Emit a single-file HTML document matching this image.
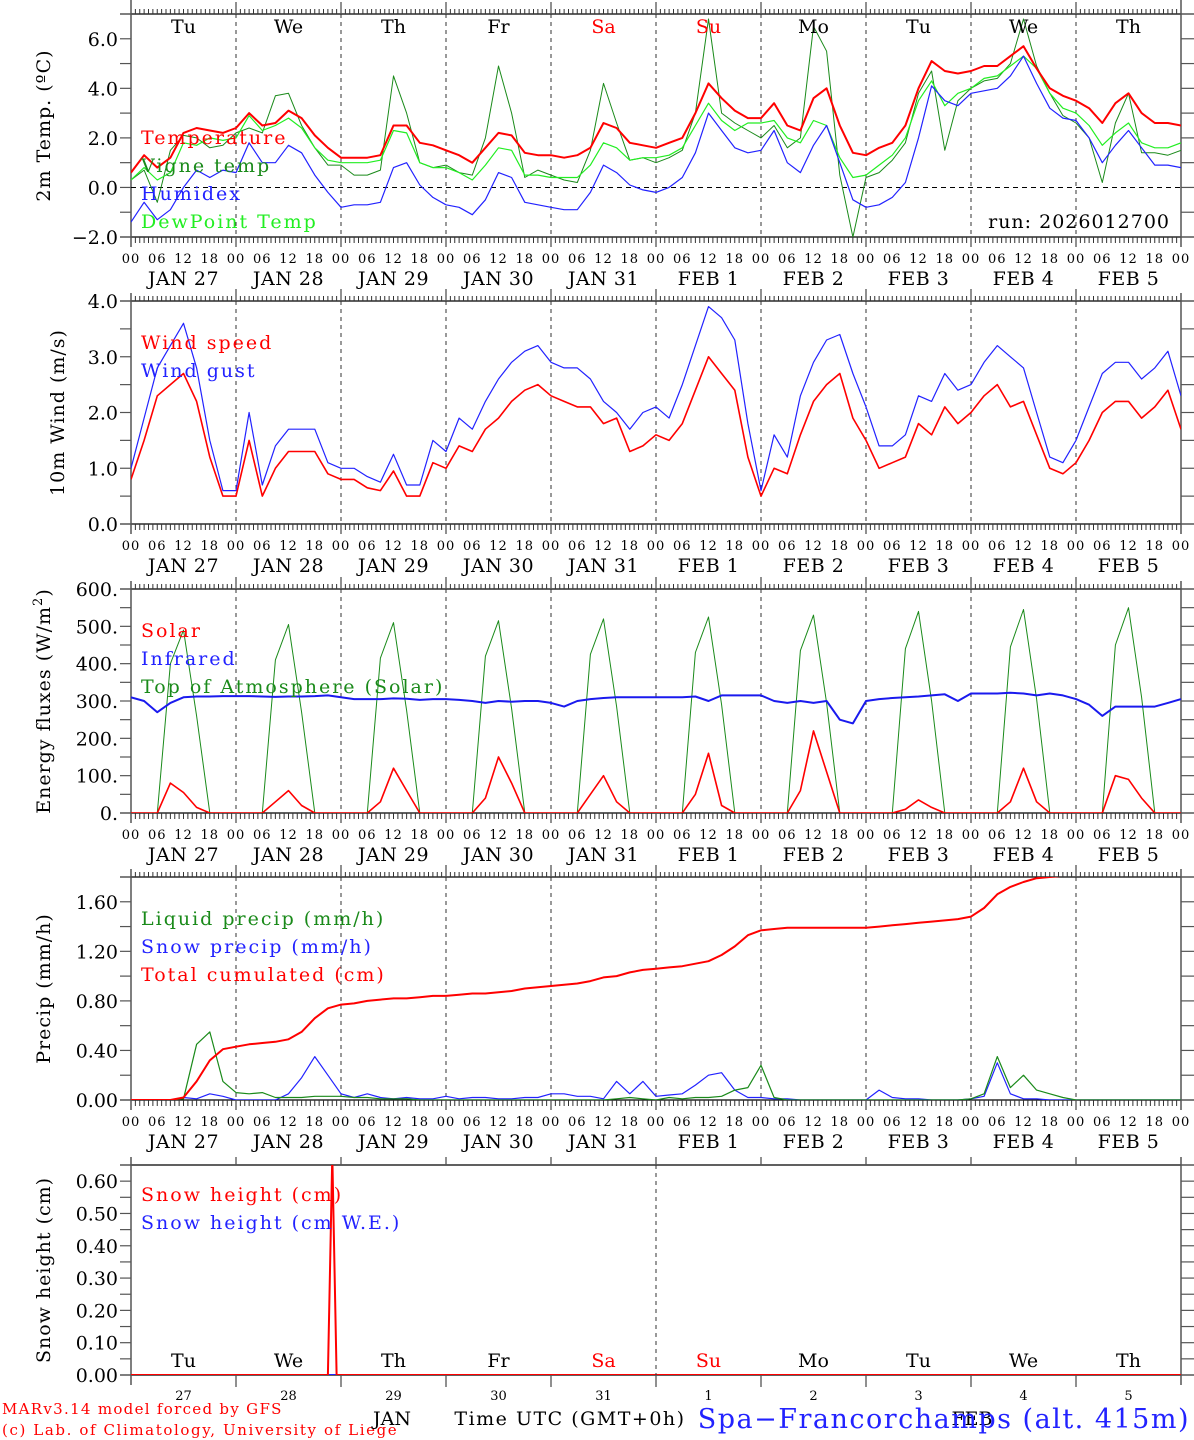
<!DOCTYPE html>
<html><head><meta charset="utf-8">
<style>
html,body{margin:0;padding:0;background:#fff;}
svg{display:block;}
text{font-family:"DejaVu Serif","Liberation Serif",serif;}
</style></head>
<body>
<svg id="chart" width="1194" height="1440" viewBox="0 0 1194 1440" xmlns="http://www.w3.org/2000/svg"></svg>
<script>
// ---- data (3-hourly, starting Jan 27 00 UTC) ----
const stepHours = 3;
const dayNames = ['Tu','We','Th','Fr','Sa','Su','Mo','Tu','We','Th'];
const dateLabels = ['JAN  27','JAN  28','JAN  29','JAN  30','JAN  31','FEB   1','FEB   2','FEB   3','FEB   4','FEB   5'];
const dayNums = ['27','28','29','30','31','1','2','3','4','5'];
const hourLabels = ['00','06','12','18'];

const temperature = [0.6,1.3,0.8,1.2,2.2,2.4,2.3,2.2, 2.4,3.0,2.5,2.6,3.1,2.8,2.1,1.6, 1.2,1.2,1.2,1.3,2.5,2.5,1.8,1.7, 1.5,1.3,1.0,1.6,2.2,2.1,1.4,1.3, 1.3,1.2,1.3,1.6,2.6,2.4,1.8,1.7, 1.6,1.8,2.0,3.0,4.2,3.6,3.1,2.8, 2.8,3.4,2.5,2.3,3.6,4.0,2.5,1.4, 1.3,1.6,1.8,2.5,4.0,5.1,4.7,4.6, 4.7,4.9,4.9,5.3,5.7,4.8,4.0,3.7, 3.5,3.2,2.6,3.4,3.8,3.0,2.6,2.6,2.5];
const vigneTemp = [0.3,0.7,-0.6,1.5,2.1,2.0,1.6,1.7, 2.2,2.4,2.2,3.7,3.8,2.5,1.6,0.9, 0.9,0.5,0.5,0.7,4.5,3.0,1.0,0.8, 0.9,0.6,0.5,2.0,4.9,3.0,0.4,0.7, 0.5,0.3,0.2,1.5,4.2,2.6,1.1,1.2, 1.0,1.2,1.5,3.0,6.8,3.0,2.6,2.3, 2.0,2.5,1.6,2.0,6.5,5.5,0.5,-2.0, 0.4,0.6,1.1,1.8,3.8,4.7,1.5,3.5, 4.0,4.3,4.4,5.0,6.8,4.9,3.8,2.9, 2.6,2.0,0.2,2.6,3.8,1.4,1.4,1.3,1.5];
const dewPoint = [0.3,0.8,0.3,0.6,1.8,1.7,2.0,1.9, 2.0,2.9,2.3,2.5,2.8,2.4,1.6,1.1, 1.0,1.0,1.0,1.1,2.3,2.2,1.0,0.8, 0.8,0.6,0.3,0.9,1.6,1.5,0.5,0.5, 0.4,0.4,0.4,0.9,1.8,1.6,1.1,1.2, 1.2,1.3,1.6,2.5,3.4,2.7,2.3,2.6, 2.6,2.7,2.0,1.8,2.7,2.5,1.2,0.4, 0.5,0.9,1.3,2.0,3.5,4.3,3.3,3.8, 4.0,4.4,4.5,4.9,5.3,4.8,3.8,3.2, 3.0,2.5,1.7,2.2,2.6,1.8,1.6,1.6,1.8];
const humidex = [-1.4,-0.6,-1.3,-0.9,0.0,0.7,0.4,0.7, 0.6,1.8,1.0,1.0,1.7,1.4,0.5,-0.2, -0.8,-0.7,-0.7,-0.6,0.8,1.0,0.1,-0.4, -0.7,-0.8,-1.1,-0.5,0.6,0.4,-0.6,-0.7, -0.8,-0.9,-0.9,-0.2,0.9,0.6,0.1,-0.1, -0.2,0.0,0.4,1.4,3.0,2.3,1.6,1.4, 1.5,2.3,1.0,0.6,1.7,2.5,1.0,-0.5, -0.8,-0.7,-0.4,0.2,2.0,4.1,3.5,3.3, 3.8,3.9,4.0,4.5,5.3,4.2,3.2,2.8, 2.7,2.0,1.0,1.7,2.3,1.6,0.9,0.9,0.8];

const windSpeed = [0.8,1.5,2.3,2.5,2.7,2.2,1.2,0.5, 0.5,1.5,0.5,1.0,1.3,1.3,1.3,0.9, 0.8,0.8,0.65,0.6,0.95,0.5,0.5,1.1, 1.0,1.4,1.3,1.7,1.9,2.2,2.4,2.5, 2.3,2.2,2.1,2.1,1.8,1.9,1.3,1.4, 1.6,1.5,1.8,2.4,3.0,2.7,2.4,1.2, 0.5,1.0,0.9,1.6,2.2,2.5,2.7,1.9, 1.5,1.0,1.1,1.2,1.8,1.6,2.1,1.8, 2.0,2.3,2.5,2.1,2.2,1.6,1.0,0.9, 1.1,1.5,2.0,2.2,2.2,1.9,2.1,2.4,1.7];
const windGust = [1.0,1.9,2.8,3.2,3.6,2.8,1.5,0.6, 0.6,2.0,0.7,1.4,1.7,1.7,1.7,1.1, 1.0,1.0,0.85,0.75,1.25,0.7,0.7,1.5, 1.3,1.9,1.7,2.2,2.6,2.9,3.1,3.2, 2.9,2.8,2.8,2.6,2.2,2.0,1.7,2.0, 2.1,1.9,2.5,3.2,3.9,3.7,3.3,1.8, 0.6,1.6,1.2,2.3,2.9,3.3,3.4,2.7, 2.1,1.4,1.4,1.6,2.3,2.2,2.7,2.4, 2.5,2.9,3.2,3.0,2.8,2.0,1.2,1.1, 1.5,2.1,2.7,2.9,2.9,2.6,2.8,3.1,2.3];

const solar = [0,0,0,80,55,15,0,0, 0,0,0,30,60,20,0,0, 0,0,0,30,120,60,0,0, 0,0,0,40,150,80,0,0, 0,0,0,50,100,30,0,0, 0,0,0,50,160,20,0,0, 0,0,0,60,220,110,0,0, 0,0,0,10,35,15,0,0, 0,0,0,30,120,30,0,0, 0,0,0,100,90,40,0,0,0];
const infrared = [310,300,270,295,310,312,312,313, 313,313,312,311,312,312,313,315, 310,305,305,305,307,306,303,305, 305,303,300,295,300,298,300,300, 295,285,300,305,308,310,310,310, 310,310,310,312,300,315,315,315, 315,300,295,300,295,300,250,240, 300,305,308,310,312,315,318,300, 320,320,320,322,320,315,320,315, 305,290,260,285,285,285,285,295,305];
const toaSolar = [0,0,0,400,490,260,0,0, 0,0,0,410,505,270,0,0, 0,0,0,415,510,275,0,0, 0,0,0,420,515,280,0,0, 0,0,0,425,520,285,0,0, 0,0,0,430,525,290,0,0, 0,0,0,435,530,295,0,0, 0,0,0,440,540,300,0,0, 0,0,0,445,545,305,0,0, 0,0,0,450,550,310,0,0,0];

const liquidPrecip = [0,0,0,0,0.01,0.45,0.55,0.15, 0.06,0.05,0.06,0.02,0.02,0.02,0.03,0.03, 0.03,0.02,0.02,0.01,0.01,0.01,0,0, 0,0,0,0,0,0,0,0, 0,0,0,0,0,0.01,0.02,0.01, 0,0.02,0.01,0.02,0.02,0.03,0.08,0.1, 0.28,0.02,0,0,0,0,0,0, 0,0,0,0,0,0,0,0, 0.01,0.05,0.35,0.1,0.2,0.08,0.05,0.02, 0,0,0,0,0,0,0,0,0];
const snowPrecip = [0,0,0,0,0.02,0.01,0.05,0.03, 0,0,0,0,0.05,0.18,0.35,0.2, 0.05,0.02,0.05,0.02,0.01,0.02,0.01,0.01, 0.03,0.01,0.02,0.02,0.01,0.01,0.02,0.02, 0.05,0.05,0.03,0.03,0.01,0.15,0.05,0.15, 0.03,0.04,0.05,0.12,0.2,0.22,0.08,0.02, 0.02,0.01,0.01,0,0,0,0,0, 0,0.08,0.02,0.01,0.01,0,0,0, 0.01,0.03,0.3,0.05,0.01,0.01,0,0, 0,0,0,0,0,0,0,0,0];
const totalCumulated = [0,0,0,0,0.02,0.15,0.32,0.41, 0.43,0.45,0.46,0.47,0.49,0.55,0.66,0.74, 0.77,0.78,0.80,0.81,0.82,0.82,0.83,0.84, 0.84,0.85,0.86,0.86,0.87,0.88,0.90,0.91, 0.92,0.93,0.94,0.96,0.99,1.00,1.03,1.05, 1.06,1.07,1.08,1.10,1.12,1.17,1.24,1.33, 1.37,1.38,1.39,1.39,1.39,1.39,1.39,1.39, 1.39,1.40,1.41,1.42,1.43,1.44,1.45,1.46, 1.48,1.55,1.66,1.72,1.76,1.79,1.80,1.81, 1.81,1.81,1.81,1.81,1.81,1.81,1.81,1.81,1.81];

const snowHours = [0,45,46,47,240];
const snowHeight = [0,0,0.68,0,0];
const snowWE = [0,0,0,0,0];

// tick arrays
const tempTickVals = [-2,0,2,4,6];
const tempTickLabels = ['\u22122.0','0.0','2.0','4.0','6.0'];
const windTickVals = [0,1,2,3,4];
const windTickLabels = ['0.0','1.0','2.0','3.0','4.0'];
const energyTickVals = [0,100,200,300,400,500,600];
const energyTickLabels = ['0.','100.','200.','300.','400.','500.','600.'];
const precipTickVals = [0,0.4,0.8,1.2,1.6];
const precipTickLabels = ['0.00','0.40','0.80','1.20','1.60'];
const snowTickVals = [0,0.1,0.2,0.3,0.4,0.5,0.6];
const snowTickLabels = ['0.00','0.10','0.20','0.30','0.40','0.50','0.60'];

// ---- drawing ----
const NS = 'http://www.w3.org/2000/svg';
const svg = document.getElementById('chart');
const X0 = 131, X1 = 1181, DAYW = (X1 - X0) / 10;
function xh(h){ return X0 + h * DAYW / 24; }
function mk(tag, attrs, parent){
  const e = document.createElementNS(NS, tag);
  for (const k in attrs) e.setAttribute(k, attrs[k]);
  (parent || svg).appendChild(e);
  return e;
}
function txt(s, x, y, size, fill, anchor, parent){
  const t = mk('text', {x:x, y:y, 'font-size':size, fill:fill || '#000', 'text-anchor':anchor || 'middle'}, parent);
  t.textContent = s;
  return t;
}

function panel(p){
  const g = mk('g', {});
  
  
  const ys = v => p.bottom - (v - p.ymin) / (p.ymax - p.ymin) * (p.bottom - p.top);
  p.ys = ys;
  mk('line', {x1:120, y1:p.top, x2:1194, y2:p.top, stroke:'#000', 'stroke-width':1.2}, g);
  mk('line', {x1:120, y1:p.bottom, x2:1194, y2:p.bottom, stroke:'#000', 'stroke-width':1.2}, g);
  mk('line', {x1:X0, y1:p.top - (p.topExt||8), x2:X0, y2:p.bottom + 10, stroke:'#555', 'stroke-width':1.5}, g);
  mk('line', {x1:X1, y1:p.top - (p.topExt||8), x2:X1, y2:p.bottom + 10, stroke:'#555', 'stroke-width':1.5}, g);
  if (p.hourTicks){
    let d = '';
    for (let h = 1; h < 240; h++){
      if (h % 24 === 0) continue;
      d += 'M' + xh(h) + ' ' + (p.top - 5) + 'V' + p.top;
      d += 'M' + xh(h) + ' ' + p.bottom + 'V' + (p.bottom + 6);
    }
    mk('path', {d:d, stroke:'#333', 'stroke-width':1}, g);
    for (let i = 1; i < 10; i++){
      mk('line', {x1:xh(i*24), y1:p.top - 12, x2:xh(i*24), y2:p.top, stroke:'#555', 'stroke-width':1.3}, g);
      mk('line', {x1:xh(i*24), y1:p.bottom, x2:xh(i*24), y2:p.bottom + 10, stroke:'#555', 'stroke-width':1.3}, g);
      const dl = mk('line', {x1:xh(i*24), y1:p.top, x2:xh(i*24), y2:p.bottom, stroke:'#333', 'stroke-width':1, 'stroke-dasharray':'4,4'}, g);
      
      
    }
  }
  for (let v = p.ymin; v <= p.ymax + 1e-9; v += p.minor){
    const y = ys(v);
    mk('line', {x1:120, y1:y, x2:X0, y2:y, stroke:'#555', 'stroke-width':1.2}, g);
    mk('line', {x1:X1, y1:y, x2:1194, y2:y, stroke:'#555', 'stroke-width':1.2}, g);
  }
  p.tickVals.forEach((v, i) => {
    const t = txt(p.tickLabels[i], 118, ys(v) + 7, 19, '#000', 'end', g);
    
    
  });
  const cy = (p.top + p.bottom) / 2;
  const ttl = mk('text', {x:p.titleX, y:cy, 'font-size':19, 'text-anchor':'middle', 'letter-spacing':1, transform:'rotate(-90 ' + p.titleX + ' ' + cy + ')'}, g);
  ttl.innerHTML = p.title;
  
  
  if (p.dateRow){
    for (let i = 0; i <= 10; i++){
      for (let k = 0; k < 4; k++){
        if (i === 10 && k > 0) break;
        const t = txt(hourLabels[k], xh(i*24 + k*6), p.bottom + 26, 13, '#000', 'middle', g);
        t.setAttribute('letter-spacing', '1');
        
        
      }
      if (i < 10){
        const t = mk('text', {x:xh(i*24 + 12), y:p.bottom + 48, 'font-size':19, 'text-anchor':'middle', 'letter-spacing':0.5, 'xml:space':'preserve'}, g);
        t.textContent = dateLabels[i];
        
        
      }
    }
  }
  const cid = 'clip-' + p.name;
  const cp = mk('clipPath', {id:cid}, g);
  mk('rect', {x:X0, y:p.top, width:X1 - X0, height:p.bottom - p.top}, cp);
  p.clip = mk('g', {'clip-path':'url(#' + cid + ')'}, g);
  return p;
}
function series(p, vals, color, w, name, hrs){
  const pts = vals.map((v, i) => xh(hrs ? hrs[i] : i * stepHours).toFixed(1) + ',' + p.ys(v).toFixed(1)).join(' ');
  const pl = mk('polyline', {points:pts, fill:'none', stroke:color, 'stroke-width':w, 'stroke-linejoin':'round'}, p.clip);
  
  
}
function legend(entries, y0){
  entries.forEach((e, i) => {
    const t = txt(e[0], 141, y0 + i * 28, 19, e[1], 'start');
    t.setAttribute('letter-spacing', '2');
    
    
  });
}

// Panel 1
const p1 = panel({name:'temperature-panel', top:14, bottom:237, ymin:-2, ymax:7, minor:1, tickVals:tempTickVals, tickLabels:tempTickLabels, title:'2m Temp. (\u00baC)', titleX:50, hourTicks:true, dateRow:true, topExt:14});
mk('line', {x1:X0, y1:p1.ys(0), x2:X1, y2:p1.ys(0), stroke:'#000', 'stroke-width':1, 'stroke-dasharray':'5,4'}, p1.clip);
series(p1, vigneTemp, '#1a8a1a', 1, 'vigne-temp-line');
series(p1, dewPoint, '#22ee22', 1.2, 'dewpoint-line');
series(p1, humidex, '#2222ff', 1.2, 'humidex-line');
series(p1, temperature, '#ff0000', 2, 'temperature-line');
dayNames.forEach((d, i) => {
  const t = txt(d, xh(i*24 + 12), 33, 19, (d === 'Sa' || d === 'Su') ? '#ff0000' : '#000');
  
  
});
legend([['Temperature','#ff0000'],['Vigne temp','#1a8a1a'],['Humidex','#2222ff'],['DewPoint Temp','#22ee22']], 144);
const run = txt('run: 2026012700', 1170, 228, 19, '#000', 'end');
run.setAttribute('letter-spacing', '1');



// Panel 2
const p2 = panel({name:'wind-panel', top:301, bottom:524, ymin:0, ymax:4, minor:0.5, tickVals:windTickVals, tickLabels:windTickLabels, title:'10m Wind (m/s)', titleX:64, hourTicks:true, dateRow:true});
series(p2, windGust, '#2222ff', 1.2, 'wind-gust-line');
series(p2, windSpeed, '#ff0000', 1.6, 'wind-speed-line');
legend([['Wind speed','#ff0000'],['Wind gust','#2222ff']], 349);

// Panel 3
const p3 = panel({name:'energy-panel', top:589, bottom:813, ymin:0, ymax:600, minor:50, tickVals:energyTickVals, tickLabels:energyTickLabels, title:'Energy fluxes (W/m<tspan dy="-8" font-size="13">2</tspan><tspan dy="8">)</tspan>', titleX:50, hourTicks:true, dateRow:true});
series(p3, toaSolar, '#1a8a1a', 1, 'toa-solar-line');
series(p3, infrared, '#1a1aee', 2, 'infrared-line');
series(p3, solar, '#ff0000', 1.6, 'solar-line');
legend([['Solar','#ff0000'],['Infrared','#2222ff'],['Top of Atmosphere (Solar)','#1a8a1a']], 637);

// Panel 4
const p4 = panel({name:'precip-panel', top:877, bottom:1100, ymin:0, ymax:1.8, minor:0.2, tickVals:precipTickVals, tickLabels:precipTickLabels, title:'Precip (mm/h)', titleX:50, hourTicks:true, dateRow:true});
series(p4, snowPrecip, '#2222ff', 1.2, 'snow-precip-line');
series(p4, liquidPrecip, '#1a8a1a', 1.2, 'liquid-precip-line');
series(p4, totalCumulated, '#ff0000', 2, 'total-cumulated-line');
legend([['Liquid precip (mm/h)','#1a8a1a'],['Snow precip (mm/h)','#2222ff'],['Total cumulated (cm)','#ff0000']], 925);

// Panel 5
const p5 = panel({name:'snow-panel', top:1165, bottom:1375, ymin:0, ymax:0.65, minor:0.05, tickVals:snowTickVals, tickLabels:snowTickLabels, title:'Snow height (cm)', titleX:50, hourTicks:false, dateRow:false});
for (let i = 1; i < 10; i++){
  mk('line', {x1:xh(i*24), y1:p5.top - 8, x2:xh(i*24), y2:p5.top, stroke:'#555', 'stroke-width':1.3});
  mk('line', {x1:xh(i*24), y1:p5.bottom, x2:xh(i*24), y2:p5.bottom + 12, stroke:'#555', 'stroke-width':1.3});
}
mk('line', {x1:xh(120), y1:p5.top, x2:xh(120), y2:p5.bottom, stroke:'#333', 'stroke-width':1, 'stroke-dasharray':'4,4'});
series(p5, snowWE, '#2222ff', 2, 'snow-we-line', snowHours);
series(p5, snowHeight, '#ff0000', 2, 'snow-height-line', snowHours);
legend([['Snow height (cm)','#ff0000'],['Snow height (cm W.E.)','#2222ff']], 1201);
dayNames.forEach((d, i) => {
  const t = txt(d, xh(i*24 + 12), 1367, 19, (d === 'Sa' || d === 'Su') ? '#ff0000' : '#000');
  
  
  const n = txt(dayNums[i], xh(i*24 + 12), 1400, 13, '#000');
  
  
});

// footer
const f1 = txt('MARv3.14 model forced by GFS', 2, 1414, 15, '#ff0000', 'start');
f1.setAttribute('letter-spacing', '1.3');


const f2 = txt('(c) Lab. of Climatology, University of Liege', 2, 1435, 15, '#ff0000', 'start');
f2.setAttribute('letter-spacing', '1.6');


const jan = txt('JAN', 392, 1425, 19, '#000');


const feb = txt('FEB', 972, 1425, 19, '#000');


const xt = txt('Time UTC (GMT+0h)', 570, 1425, 19, '#000');
xt.setAttribute('letter-spacing', '1.5');


const loc = txt('Spa\u2212Francorchamps (alt. 415m)', 1190, 1428, 27, '#2222ff', 'end');
loc.setAttribute('letter-spacing', '1.5');


</script>
</body></html>
